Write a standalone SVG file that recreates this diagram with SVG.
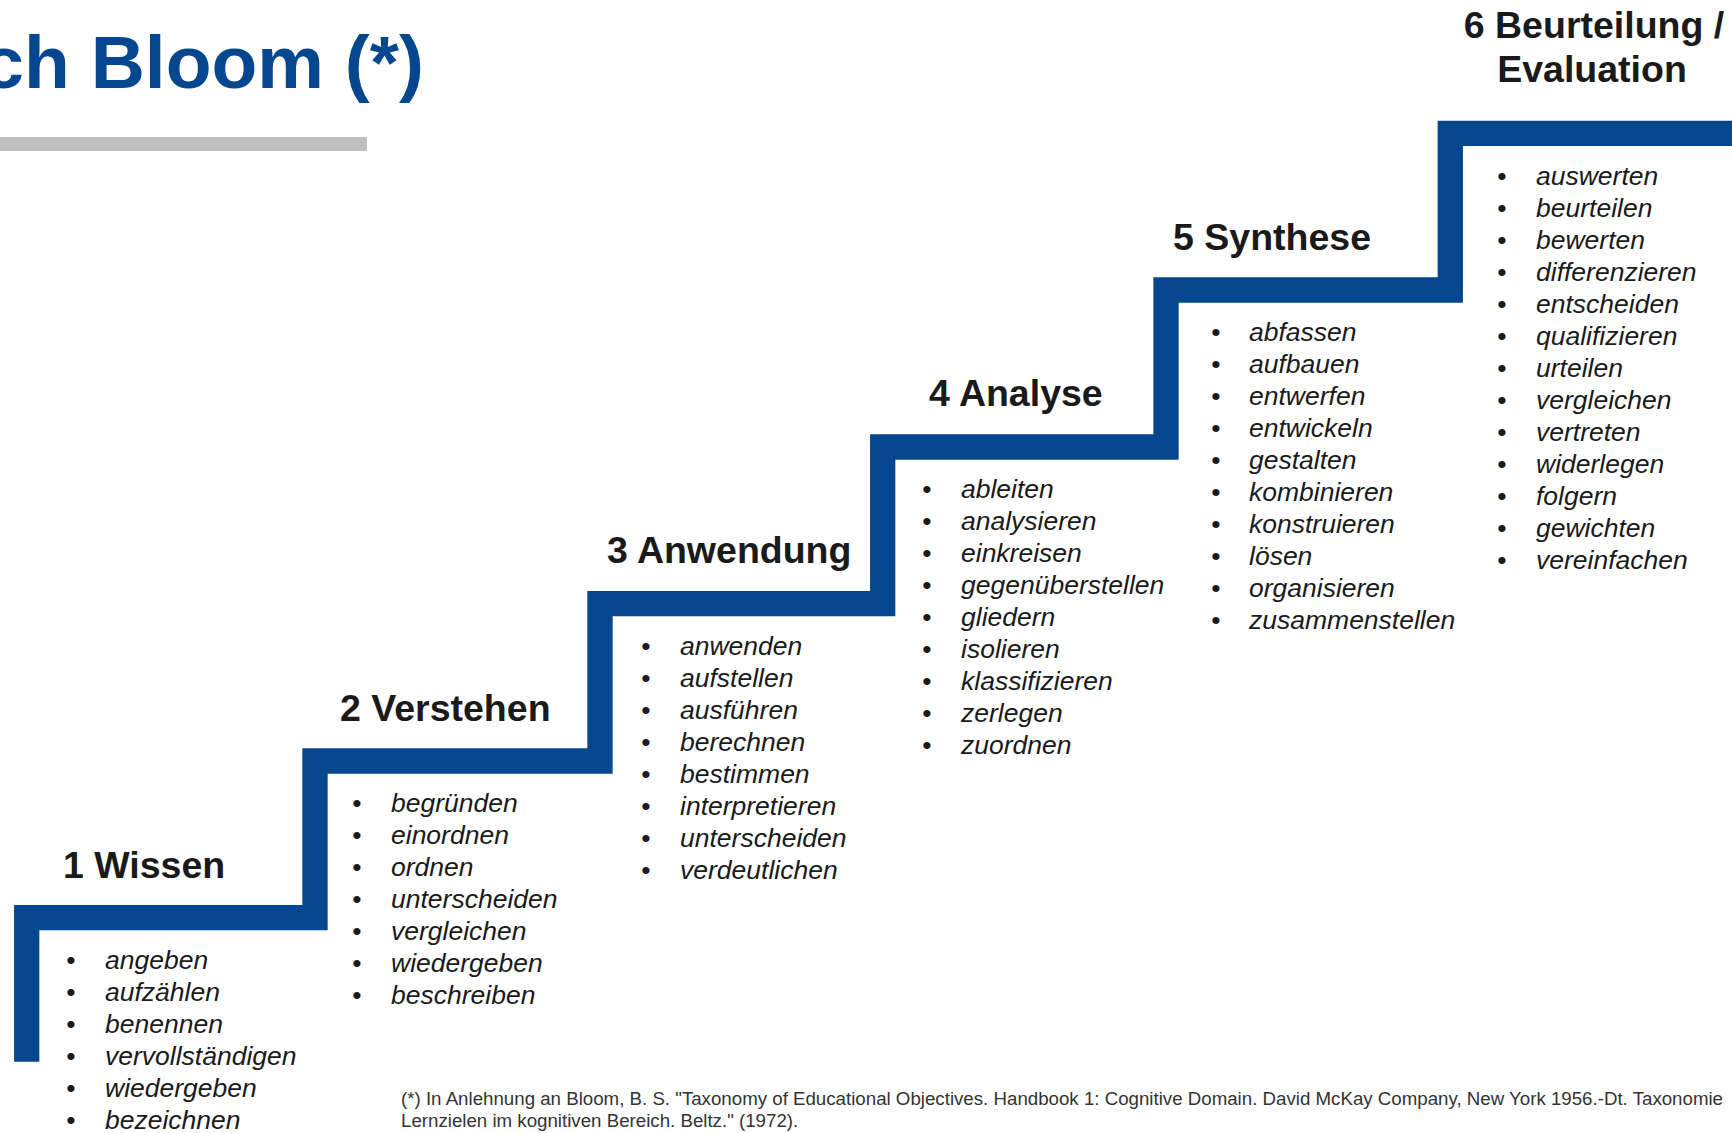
<svg xmlns="http://www.w3.org/2000/svg" width="1732" height="1133" viewBox="0 0 1732 1133">
<style>
.t{font-family:"Liberation Sans",Arial,sans-serif;font-weight:bold;font-size:75px;fill:#04478f}
.h{font-family:"Liberation Sans",Arial,sans-serif;font-weight:bold;font-size:37.5px;fill:#1a1a1a}
.li{font-family:"Liberation Sans",Arial,sans-serif;font-style:italic;font-size:26.5px;fill:#1a1a1a}
.bu{font-family:"Liberation Sans",Arial,sans-serif;font-size:26.5px;fill:#1a1a1a;text-anchor:middle}
.fn{font-family:"Liberation Sans",Arial,sans-serif;font-size:18.7px;fill:#333333}
.stair{fill:none;stroke:#04478f;stroke-width:25.3;stroke-linejoin:miter}
</style>
<rect width="1732" height="1133" fill="#ffffff"/>
<g id="title">
<text class="t" x="424" y="88" text-anchor="end">ch Bloom (*)</text>
<rect x="0" y="137" width="367" height="14" fill="#bfbfbf"/>
</g>
<g id="connectors">
<path class="stair" d="M26.7 1061.7 V917.7 H315 V761 H600 V603.7 H882.7 V447 H1166 V290 H1450.3 V133.3 H1740"/>
</g>
<g id="step1">
<text class="h" x="63" y="878">1 Wissen</text>
<text class="bu"><tspan x="71" y="969">•</tspan><tspan x="71" dy="32">•</tspan><tspan x="71" dy="32">•</tspan><tspan x="71" dy="32">•</tspan><tspan x="71" dy="32">•</tspan><tspan x="71" dy="32">•</tspan></text>
<text class="li"><tspan x="105" y="969">angeben</tspan><tspan x="105" dy="32">aufzählen</tspan><tspan x="105" dy="32">benennen</tspan><tspan x="105" dy="32">vervollständigen</tspan><tspan x="105" dy="32">wiedergeben</tspan><tspan x="105" dy="32">bezeichnen</tspan></text>
</g>
<g id="step2">
<text class="h" x="340" y="721">2 Verstehen</text>
<text class="bu"><tspan x="357" y="812">•</tspan><tspan x="357" dy="32">•</tspan><tspan x="357" dy="32">•</tspan><tspan x="357" dy="32">•</tspan><tspan x="357" dy="32">•</tspan><tspan x="357" dy="32">•</tspan><tspan x="357" dy="32">•</tspan></text>
<text class="li"><tspan x="391" y="812">begründen</tspan><tspan x="391" dy="32">einordnen</tspan><tspan x="391" dy="32">ordnen</tspan><tspan x="391" dy="32">unterscheiden</tspan><tspan x="391" dy="32">vergleichen</tspan><tspan x="391" dy="32">wiedergeben</tspan><tspan x="391" dy="32">beschreiben</tspan></text>
</g>
<g id="step3">
<text class="h" x="607" y="563">3 Anwendung</text>
<text class="bu"><tspan x="646" y="655">•</tspan><tspan x="646" dy="32">•</tspan><tspan x="646" dy="32">•</tspan><tspan x="646" dy="32">•</tspan><tspan x="646" dy="32">•</tspan><tspan x="646" dy="32">•</tspan><tspan x="646" dy="32">•</tspan><tspan x="646" dy="32">•</tspan></text>
<text class="li"><tspan x="680" y="655">anwenden</tspan><tspan x="680" dy="32">aufstellen</tspan><tspan x="680" dy="32">ausführen</tspan><tspan x="680" dy="32">berechnen</tspan><tspan x="680" dy="32">bestimmen</tspan><tspan x="680" dy="32">interpretieren</tspan><tspan x="680" dy="32">unterscheiden</tspan><tspan x="680" dy="32">verdeutlichen</tspan></text>
</g>
<g id="step4">
<text class="h" x="929" y="406">4 Analyse</text>
<text class="bu"><tspan x="927" y="498">•</tspan><tspan x="927" dy="32">•</tspan><tspan x="927" dy="32">•</tspan><tspan x="927" dy="32">•</tspan><tspan x="927" dy="32">•</tspan><tspan x="927" dy="32">•</tspan><tspan x="927" dy="32">•</tspan><tspan x="927" dy="32">•</tspan><tspan x="927" dy="32">•</tspan></text>
<text class="li"><tspan x="961" y="498">ableiten</tspan><tspan x="961" dy="32">analysieren</tspan><tspan x="961" dy="32">einkreisen</tspan><tspan x="961" dy="32">gegenüberstellen</tspan><tspan x="961" dy="32">gliedern</tspan><tspan x="961" dy="32">isolieren</tspan><tspan x="961" dy="32">klassifizieren</tspan><tspan x="961" dy="32">zerlegen</tspan><tspan x="961" dy="32">zuordnen</tspan></text>
</g>
<g id="step5">
<text class="h" x="1173" y="250">5 Synthese</text>
<text class="bu"><tspan x="1216" y="341">•</tspan><tspan x="1216" dy="32">•</tspan><tspan x="1216" dy="32">•</tspan><tspan x="1216" dy="32">•</tspan><tspan x="1216" dy="32">•</tspan><tspan x="1216" dy="32">•</tspan><tspan x="1216" dy="32">•</tspan><tspan x="1216" dy="32">•</tspan><tspan x="1216" dy="32">•</tspan><tspan x="1216" dy="32">•</tspan></text>
<text class="li"><tspan x="1249" y="341">abfassen</tspan><tspan x="1249" dy="32">aufbauen</tspan><tspan x="1249" dy="32">entwerfen</tspan><tspan x="1249" dy="32">entwickeln</tspan><tspan x="1249" dy="32">gestalten</tspan><tspan x="1249" dy="32">kombinieren</tspan><tspan x="1249" dy="32">konstruieren</tspan><tspan x="1249" dy="32">lösen</tspan><tspan x="1249" dy="32">organisieren</tspan><tspan x="1249" dy="32">zusammenstellen</tspan></text>
</g>
<g id="step6">
<text class="h" text-anchor="middle"><tspan x="1594" y="38">6 Beurteilung /</tspan><tspan x="1592" y="82">Evaluation</tspan></text>
<text class="bu"><tspan x="1502" y="184.5">•</tspan><tspan x="1502" dy="32">•</tspan><tspan x="1502" dy="32">•</tspan><tspan x="1502" dy="32">•</tspan><tspan x="1502" dy="32">•</tspan><tspan x="1502" dy="32">•</tspan><tspan x="1502" dy="32">•</tspan><tspan x="1502" dy="32">•</tspan><tspan x="1502" dy="32">•</tspan><tspan x="1502" dy="32">•</tspan><tspan x="1502" dy="32">•</tspan><tspan x="1502" dy="32">•</tspan><tspan x="1502" dy="32">•</tspan></text>
<text class="li"><tspan x="1536" y="184.5">auswerten</tspan><tspan x="1536" dy="32">beurteilen</tspan><tspan x="1536" dy="32">bewerten</tspan><tspan x="1536" dy="32">differenzieren</tspan><tspan x="1536" dy="32">entscheiden</tspan><tspan x="1536" dy="32">qualifizieren</tspan><tspan x="1536" dy="32">urteilen</tspan><tspan x="1536" dy="32">vergleichen</tspan><tspan x="1536" dy="32">vertreten</tspan><tspan x="1536" dy="32">widerlegen</tspan><tspan x="1536" dy="32">folgern</tspan><tspan x="1536" dy="32">gewichten</tspan><tspan x="1536" dy="32">vereinfachen</tspan></text>
</g>
<g id="footnote">
<text class="fn"><tspan x="401" y="1105">(*) In Anlehnung an Bloom, B. S. "Taxonomy of Educational Objectives. Handbook 1: Cognitive Domain. David McKay Company, New York 1956.-Dt. Taxonomie</tspan><tspan x="401" y="1127">Lernzielen im kognitiven Bereich. Beltz." (1972).</tspan></text>
</g>
</svg>
